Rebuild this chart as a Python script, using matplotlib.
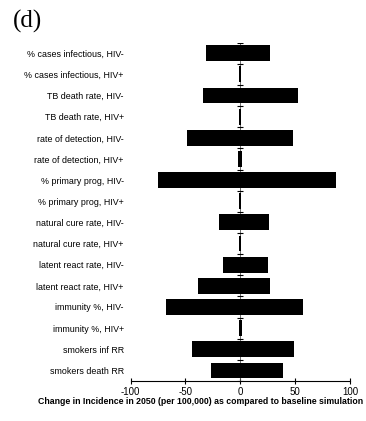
import numpy as np
import matplotlib.pyplot as plt

# parameters, top to bottom
params = [
    '% cases infectious, HIV-',
    '% cases infectious, HIV+',
    'TB death rate, HIV-',
    'TB death rate, HIV+',
    'rate of detection, HIV-',
    'rate of detection, HIV+',
    '% primary prog, HIV-',
    '% primary prog, HIV+',
    'natural cure rate, HIV-',
    'natural cure rate, HIV+',
    'latent react rate, HIV-',
    'latent react rate, HIV+',
    'immunity %, HIV-',
    'immunity %, HIV+',
    'smokers inf RR',
    'smokers death RR',
]
# low / high change in incidence (per 100,000)
low = [-31.3, -1.0, -34.4, -1.0, -49.0, -1.8, -75.4, -1.0,
       -19.1, -1.0, -16.1, -38.6, -67.8, -1.2, -44.4, -27.1]
high = [27.1, 1.0, 52.3, 1.0, 47.7, 1.8, 87.2, 1.0,
        26.4, 1.0, 25.2, 26.7, 57.4, 1.2, 49.2, 39.2]
xticks = [-100, -50, 0, 50, 100]

plt.rcParams['font.family'] = ['Liberation Sans', 'DejaVu Sans']

fig = plt.figure(figsize=(3.66, 4.21), dpi=100)
ax = fig.add_axes([0.357, 0.095, 0.599, 0.8036])

n = len(params)
y = np.arange(n)
lo = np.array(low)
hi = np.array(high)
ax.barh(y, hi - lo, left=lo, height=0.75, color='black', zorder=3)

# centre line with small marks at the row boundaries
ax.axvline(0, color='#555555', lw=0.6, zorder=2)
bounds = np.arange(n + 1) - 0.5
ax.plot(np.zeros(n + 1), bounds, ls='none', marker='_', ms=4,
        mew=0.8, color='black', zorder=4)

ax.set_ylim(n - 0.5, -0.5)
ax.set_xlim(-100, 100)
ax.set_yticks(y)
ax.set_yticklabels(params, fontsize=6.4)
ax.tick_params(axis='y', length=0, pad=5)
ax.set_xticks(xticks)
ax.set_xticklabels([str(v) for v in xticks], fontsize=7)
ax.tick_params(axis='x', direction='inout', length=5, width=0.8, pad=2)

for s in ['top', 'right', 'left']:
    ax.spines[s].set_visible(False)
ax.spines['bottom'].set_linewidth(0.8)

ax.set_xlabel('Change in Incidence in 2050 (per 100,000) as compared to baseline simulation',
              fontsize=6.3, fontweight='bold')
ax.xaxis.set_label_coords(0.318, -0.047)

fig.text(0.035, 0.935, '(d)', fontsize=18, family='Liberation Serif')

plt.savefig('out.png', dpi=100)
